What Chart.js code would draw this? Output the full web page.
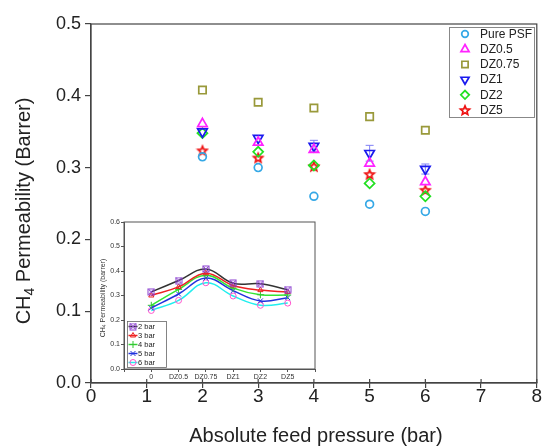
<!DOCTYPE html>
<html>
<head>
<meta charset="utf-8">
<script src="https://cdn.jsdelivr.net/npm/chart.js@4.4.1/dist/chart.umd.min.js"></script>
<style>
  html, body { margin: 0; padding: 0; background: #fff; }
  #wrap { position: relative; width: 544px; height: 446px; }
  #main { position: absolute; left: 0; top: 0; }
  #inset { position: absolute; left: 95px; top: 212px; }
</style>
</head>
<body>
<div id="wrap">
  <canvas id="main" width="544" height="446"></canvas>
  <canvas id="inset" width="225" height="178"></canvas>
</div>
<script>
// data
const pressures = [2, 3, 4, 5, 6];
const membranes = ['Pure PSF', 'DZ0.5', 'DZ0.75', 'DZ1', 'DZ2', 'DZ5'];
const insetLabels = ['0', 'DZ0.5', 'DZ0.75', 'DZ1', 'DZ2', 'DZ5'];
const insetSeries = ['2 bar', '3 bar', '4 bar', '5 bar', '6 bar'];
const purePSF = [0.315, 0.300, 0.260, 0.249, 0.239];
const dz05 = [0.361, 0.335, 0.325, 0.306, 0.280];
const dz075 = [0.408, 0.391, 0.383, 0.371, 0.352];
const dz1 = [0.350, 0.341, 0.330, 0.320, 0.298];
const dz2 = [0.348, 0.322, 0.303, 0.278, 0.260];
const dz5 = [0.324, 0.314, 0.302, 0.291, 0.269];
const dz1Err = [0, 0, 0.008, 0.011, 0.007];

const FONT = '"Liberation Sans", Arial, sans-serif';
Chart.defaults.font.family = FONT;
Chart.defaults.color = '#222';

function starImg(color, r) {
  const c = document.createElement('canvas');
  const s = Math.ceil(r * 2 + 4);
  c.width = s; c.height = s;
  const g = c.getContext('2d');
  g.strokeStyle = color; g.lineWidth = 1.7; g.lineJoin = 'miter';
  g.beginPath();
  for (let k = 0; k < 10; k++) {
    const rr = k % 2 ? r * 0.45 : r;
    const a = -Math.PI / 2 + k * Math.PI / 5;
    const px = s / 2 + rr * Math.cos(a), py = s / 2 + 0.6 + rr * Math.sin(a);
    k ? g.lineTo(px, py) : g.moveTo(px, py);
  }
  g.closePath(); g.stroke();
  return c;
}

function squareXImg(color, h) {
  const c = document.createElement('canvas');
  const s = Math.ceil(h * 2 + 2);
  c.width = s; c.height = s;
  const g = c.getContext('2d');
  g.strokeStyle = color; g.lineWidth = 1;
  const o = s / 2 - h;
  g.strokeRect(o, o, h * 2, h * 2);
  g.beginPath();
  g.moveTo(o, o); g.lineTo(o + 2 * h, o + 2 * h);
  g.moveTo(o + 2 * h, o); g.lineTo(o, o + 2 * h);
  g.stroke();
  return c;
}

const mainSets = [
  { label: membranes[0], values: purePSF, color: '#35a8e6', style: 'circle', radius: 3.9 },
  { label: membranes[1], values: dz05, color: '#ff22ff', style: 'triangle', radius: 5.5 },
  { label: membranes[2], values: dz075, color: '#99993a', style: 'rect', radius: 5.2 },
  { label: membranes[3], values: dz1, color: '#1a1aee', style: 'triangle', rot: 180, radius: 5.5 },
  { label: membranes[4], values: dz2, color: '#22e022', style: 'rectRot', radius: 5 },
  { label: membranes[5], values: dz5, color: '#ee1111', style: starImg('#ee1111', 4.7), radius: 5 }
];

function drawSubText(ctx, parts, size, cx, cy, rotate) {
  ctx.save();
  ctx.translate(cx, cy);
  if (rotate) ctx.rotate(-Math.PI / 2);
  let total = 0;
  parts.forEach(p => {
    ctx.font = (p[1] ? size * 0.7 : size) + 'px ' + FONT;
    total += ctx.measureText(p[0]).width;
  });
  let x = -total / 2;
  ctx.textBaseline = 'middle';
  ctx.textAlign = 'left';
  parts.forEach(p => {
    ctx.font = (p[1] ? size * 0.7 : size) + 'px ' + FONT;
    ctx.fillText(p[0], x, p[1] ? size * 0.3 : 0);
    x += ctx.measureText(p[0]).width;
  });
  ctx.restore();
}

const mainDecor = {
  id: 'mainDecor',
  beforeDatasetsDraw(chart) {
    const { ctx, chartArea: a, scales: { x, y } } = chart;
    ctx.save();
    ctx.strokeStyle = '#444'; ctx.lineWidth = 1.2;
    ctx.strokeRect(a.left, a.top, a.right - a.left, a.bottom - a.top);
    // inner part of the x ticks
    ctx.beginPath();
    for (let v = 0; v <= 8; v++) {
      const px = x.getPixelForValue(v);
      ctx.moveTo(px, a.bottom); ctx.lineTo(px, a.bottom - 4);
    }
    ctx.stroke();
    // error bars on DZ1
    ctx.strokeStyle = '#7f7ff5'; ctx.lineWidth = 1;
    ctx.beginPath();
    pressures.forEach((p, i) => {
      if (!dz1Err[i]) return;
      const px = x.getPixelForValue(p);
      const y1 = y.getPixelForValue(dz1[i] + dz1Err[i]);
      const y0 = y.getPixelForValue(dz1[i] - dz1Err[i]);
      ctx.moveTo(px, y0); ctx.lineTo(px, y1);
      ctx.moveTo(px - 4, y1); ctx.lineTo(px + 4, y1);
      ctx.moveTo(px - 4, y0); ctx.lineTo(px + 4, y0);
    });
    ctx.stroke();
    ctx.restore();
  },
  afterDraw(chart) {
    const { ctx, chartArea: a } = chart;
    ctx.save();
    // legend
    const lx = 449, ly = 27, lw = 85, lh = 90;
    ctx.fillStyle = '#fff';
    ctx.fillRect(lx, ly, lw, lh);
    ctx.strokeStyle = '#888'; ctx.lineWidth = 1;
    ctx.strokeRect(lx + 0.5, ly + 0.5, lw, lh);
    chart.data.datasets.forEach((ds, i) => {
      const yy = ly + 7 + i * 15.2;
      ctx.strokeStyle = ds.pointBorderColor;
      ctx.fillStyle = 'rgba(0,0,0,0)';
      ctx.lineWidth = ds.pointBorderWidth;
      Chart.helpers.drawPoint(ctx, {
        pointStyle: ds.pointStyle, rotation: ds.pointRotation,
        radius: ds.pointRadius * 0.85, borderWidth: ds.pointBorderWidth
      }, 465, yy);
      ctx.fillStyle = '#222';
      ctx.font = '12px ' + FONT;
      ctx.textAlign = 'left'; ctx.textBaseline = 'middle';
      ctx.fillText(ds.label, 480, yy + 0.5);
    });
    // axis titles
    ctx.fillStyle = '#222';
    ctx.font = '20px ' + FONT;
    ctx.textAlign = 'center'; ctx.textBaseline = 'alphabetic';
    ctx.fillText('Absolute feed pressure (bar)', (a.left + a.right) / 2 + 2, 442);
    drawSubText(ctx, [['CH', false], ['4', true], [' Permeability (Barrer)', false]], 20, 24, 211, true);
    ctx.restore();
  }
};

new Chart(document.getElementById('main'), {
  type: 'scatter',
  data: {
    datasets: mainSets.map(s => ({
      label: s.label,
      data: pressures.map((p, i) => ({ x: p, y: s.values[i] })),
      showLine: false,
      pointStyle: s.style,
      pointRotation: s.rot || 0,
      pointRadius: s.radius,
      pointHoverRadius: s.radius,
      pointBorderColor: s.color,
      pointBackgroundColor: 'rgba(0,0,0,0)',
      pointBorderWidth: 1.7
    }))
  },
  options: {
    responsive: false,
    animation: false,
    layout: { padding: { top: 24, right: 7, left: 0, bottom: 0 } },
    plugins: { legend: { display: false }, tooltip: { enabled: false } },
    scales: {
      x: {
        type: 'linear', min: 0, max: 8,
        ticks: { stepSize: 1, font: { size: 19 }, color: '#222', padding: -3, maxRotation: 0 },
        grid: { drawOnChartArea: false, tickLength: 5, color: '#444', lineWidth: 1.2 },
        border: { color: '#444', width: 1.2 },
        afterFit: s => { s.height = 63; }
      },
      y: {
        min: 0, max: 0.5,
        ticks: { stepSize: 0.1, font: { size: 18 }, color: '#222', padding: 4, callback: v => v.toFixed(1) },
        grid: { drawOnChartArea: false, tickLength: 6, color: '#444', lineWidth: 1.2 },
        border: { color: '#444', width: 1.2 },
        afterFit: s => { s.width = 91; }
      }
    }
  },
  plugins: [mainDecor]
});

// inset: same data, one line per feed pressure across membranes
const allVals = [purePSF, dz05, dz075, dz1, dz2, dz5];
const insetStyles = [
  { line: '#333333', mark: '#8a3fd0', style: squareXImg('#8a3fd0', 3), radius: 3 },
  { line: '#ee2222', mark: '#ee2222', style: 'triangle', radius: 3 },
  { line: '#33e633', mark: '#33c633', style: 'cross', radius: 3.5 },
  { line: '#2233dd', mark: '#2233dd', style: 'crossRot', radius: 3.5 },
  { line: '#22eeee', mark: '#ff55cc', style: 'circle', radius: 3 }
];

const insetDecor = {
  id: 'insetDecor',
  beforeDatasetsDraw(chart) {
    const { ctx, chartArea: a } = chart;
    ctx.save();
    ctx.strokeStyle = '#555'; ctx.lineWidth = 1;
    ctx.strokeRect(a.left, a.top, a.right - a.left, a.bottom - a.top);
    ctx.restore();
  },
  afterDraw(chart) {
    const { ctx } = chart;
    ctx.save();
    const lx = 32, ly = 109, lw = 39, lh = 46;
    ctx.fillStyle = '#fff';
    ctx.fillRect(lx, ly, lw, lh);
    ctx.strokeStyle = '#666'; ctx.lineWidth = 0.8;
    ctx.strokeRect(lx + 0.5, ly + 0.5, lw, lh);
    chart.data.datasets.forEach((ds, i) => {
      const yy = ly + 5.5 + i * 9;
      ctx.strokeStyle = ds.borderColor; ctx.lineWidth = 1.5;
      ctx.beginPath(); ctx.moveTo(lx + 1.5, yy); ctx.lineTo(lx + 10.5, yy); ctx.stroke();
      ctx.strokeStyle = ds.pointBorderColor; ctx.fillStyle = 'rgba(0,0,0,0)';
      ctx.lineWidth = ds.pointBorderWidth;
      Chart.helpers.drawPoint(ctx, {
        pointStyle: ds.pointStyle, rotation: 0, radius: ds.pointRadius, borderWidth: ds.pointBorderWidth
      }, lx + 6, yy);
      ctx.fillStyle = '#222';
      ctx.font = '7.5px ' + FONT;
      ctx.textAlign = 'left'; ctx.textBaseline = 'middle';
      ctx.fillText(ds.label, lx + 11, yy + 0.5);
    });
    ctx.fillStyle = '#333';
    drawSubText(ctx, [['CH', false], ['4', true], [' Permeability (barrer)', false]], 7, 8, 86, true);
    ctx.restore();
  }
};

new Chart(document.getElementById('inset'), {
  type: 'line',
  data: {
    datasets: insetSeries.map((name, j) => ({
      label: name,
      data: insetLabels.map((c, k) => ({ x: k, y: allVals[k][j] })),
      borderColor: insetStyles[j].line,
      borderWidth: 1.5,
      tension: 0.4,
      fill: false,
      pointStyle: insetStyles[j].style,
      pointRadius: insetStyles[j].radius,
      pointHoverRadius: insetStyles[j].radius,
      pointBorderColor: insetStyles[j].mark,
      pointBackgroundColor: 'rgba(0,0,0,0)',
      pointBorderWidth: 1
    }))
  },
  options: {
    responsive: false,
    animation: false,
    layout: { padding: { top: 10, right: 5, left: 0, bottom: 0 } },
    plugins: { legend: { display: false }, tooltip: { enabled: false } },
    scales: {
      x: {
        type: 'linear', min: -1, max: 6,
        ticks: {
          stepSize: 1, font: { size: 7 }, color: '#333', padding: 1, maxRotation: 0, autoSkip: false,
          callback: v => insetLabels[v] !== undefined ? insetLabels[v] : ''
        },
        grid: { drawOnChartArea: false, tickLength: 3, color: '#555' },
        border: { color: '#555' },
        afterFit: s => { s.height = 21; }
      },
      y: {
        min: 0, max: 0.6,
        ticks: { stepSize: 0.1, font: { size: 7 }, color: '#333', padding: 1, callback: v => v.toFixed(1) },
        grid: { drawOnChartArea: false, tickLength: 3, color: '#555' },
        border: { color: '#555' },
        afterFit: s => { s.width = 29; }
      }
    }
  },
  plugins: [insetDecor]
});
</script>
</body>
</html>
